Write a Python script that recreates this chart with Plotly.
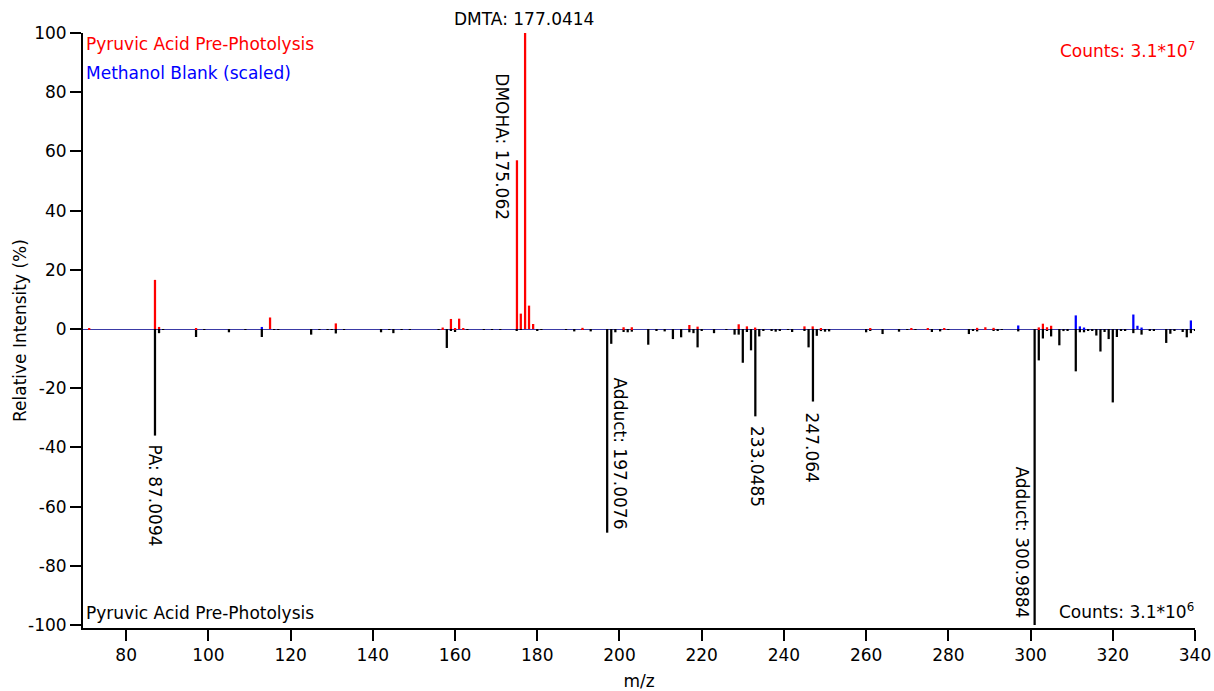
import plotly.graph_objects as go

# ---------------- data ----------------
# Pyruvic acid pre-photolysis (top, red), relative intensity %
red_mz = [71.0, 87.0094, 88.0, 97.0, 115.0, 131.0, 157.0, 159.0, 160.0, 161.0, 162.0,
          175.062, 176.0, 177.0414, 178.0, 179.0, 191.0, 201.0, 203.0, 217.0, 219.0,
          229.0, 231.0, 233.0, 245.0, 247.0, 249.0, 261.0, 271.0, 275.0, 279.0, 287.0,
          289.0, 291.0, 302.0, 303.0, 304.0, 305.0]
red_int = [0.3, 16.6, 0.7, 0.3, 3.9, 1.9, 0.5, 3.4, 0.3, 3.5, 0.3,
           57.0, 5.2, 100.0, 7.9, 1.7, 0.4, 0.6, 0.6, 1.35, 0.8,
           1.6, 0.9, 0.5, 0.9, 0.9, 0.3, 0.3, 0.3, 0.3, 0.3, 0.4,
           0.6, 0.4, 0.55, 1.8, 0.6, 1.1]

# Methanol blank (scaled, blue)
blue_mz = [113.0, 297.0, 311.0, 312.0, 313.0, 325.0, 326.0, 327.0, 339.0]
blue_int = [0.7, 1.2, 4.6, 0.9, 0.5, 4.9, 1.1, 0.5, 2.9]

# Pyruvic acid pre-photolysis (bottom, black, plotted negative)
black_mz = [87.0094, 88, 89, 97, 99, 105, 109, 113, 116, 117, 125, 127, 129, 130, 131, 133,
            142, 144, 145, 147, 149, 156, 158, 159, 160, 163, 167, 169, 171, 175, 176, 180,
            181, 187, 189, 191, 193, 197.0076, 198, 199, 201, 202, 203, 207, 209, 211, 213,
            215, 217, 218, 219, 220, 223, 226, 228, 229, 230, 231, 232, 233.0485, 234, 235,
            237, 238, 239, 241, 242, 245, 246, 247.064, 248, 249, 250, 251, 260, 261, 264,
            268, 270, 272, 276, 278, 280, 285, 286, 287, 291, 292, 293, 297, 300.9884, 302,
            303, 304, 305, 307, 308, 309, 311, 312, 313, 314, 315, 316, 317, 318, 319, 320,
            321, 322, 323, 325, 327, 329, 330, 333, 334, 335, 337, 338, 339, 340]
black_int = [-36.0, -1.4, -0.3, -2.7, -0.3, -1.1, -0.3, -2.7, -0.3, -0.3, -1.9, -0.3, -0.3, -0.3, -1.5, -0.3,
             -1.1, -0.3, -1.4, -0.3, -0.2, -0.3, -6.4, -0.5, -1.0, -0.3, -0.2, -0.2, -0.2, -0.4, -0.3, -0.4,
             -0.3, -0.2, -0.8, -0.3, -0.8, -68.8, -5.0, -1.1, -1.0, -1.1, -0.9, -5.3, -0.4, -0.8, -3.4,
             -2.8, -1.1, -1.4, -6.2, -0.5, -1.4, -0.2, -1.9, -1.9, -11.4, -1.0, -7.2, -29.5, -2.5, -0.6,
             -0.5, -0.9, -0.6, -0.3, -1.0, -0.5, -6.2, -24.5, -2.3, -0.7, -0.9, -0.8, -1.1, -0.6, -1.7,
             -0.9, -0.3, -0.3, -1.0, -0.8, -0.3, -1.7, -0.5, -0.8, -0.5, -0.5, -0.3, -0.8, -100.0, -10.6,
             -3.2, -0.6, -2.5, -5.5, -0.7, -0.5, -14.3, -1.1, -1.1, -0.4, -0.4, -2.2, -7.6, -1.0, -3.4, -24.8,
             -2.7, -0.6, -0.6, -1.4, -1.9, -0.4, -0.4, -4.7, -1.6, -0.5, -1.0, -2.8, -1.4, -0.6]

# peak labels: (mass, intensity, text)
label_mz = [177.0414, 175.062, 87.0094, 197.0076, 233.0485, 247.064, 300.9884]
label_int = [100.0, 57.0, -36.0, -68.8, -29.5, -24.5, -100.0]
label_text = ["DMTA: 177.0414", "DMOHA: 175.062", "PA: 87.0094", "Adduct: 197.0076",
              "233.0485", "247.064", "Adduct: 300.9884"]

x_ticks = list(range(80, 341, 20))
y_ticks = list(range(-100, 101, 20))
y_ticktext = [str(v) for v in y_ticks]  # plain hyphen minus

# ---------------- styling ----------------
FONT = "DejaVu Sans"
FS = 17
label_angle = [0, 90, 90, 90, 90, 90, 90]
label_xshift = [-1, -15, 0, 13, 1, 0, -13]
label_yshift = [14, 13, -60, 79, -50, -46, 83]

fig = go.Figure()
bw = 0.55
fig.add_bar(x=black_mz, y=black_int, width=bw, marker=dict(color="#000000", line_width=0),
            showlegend=False)
fig.add_bar(x=red_mz, y=red_int, width=bw, marker=dict(color="#ff0000", line_width=0),
            showlegend=False)
fig.add_bar(x=blue_mz, y=blue_int, width=bw, marker=dict(color="#0000ff", line_width=0),
            showlegend=False)

annotations = []
for mz, it, txt, ang, dx, dy in zip(label_mz, label_int, label_text, label_angle,
                                    label_xshift, label_yshift):
    annotations.append(dict(x=mz, y=it, xref="x", yref="y", text=txt, showarrow=False,
                            textangle=ang, xanchor="center", yanchor="middle",
                            xshift=dx, yshift=dy, font=dict(family=FONT, size=FS, color="black")))

annotations += [
    dict(xref="paper", yref="paper", x=0.0009, y=0.9815, xanchor="left", yanchor="middle",
         text="Pyruvic Acid Pre-Photolysis", showarrow=False,
         font=dict(family=FONT, size=FS, color="#ff0000")),
    dict(xref="paper", yref="paper", x=0.0009, y=0.9328, xanchor="left", yanchor="middle",
         text="Methanol Blank (scaled)", showarrow=False,
         font=dict(family=FONT, size=FS, color="#0000ff")),
    dict(xref="paper", yref="paper", x=1.0018, y=0.971, xanchor="right", yanchor="middle",
         text="Counts: 3.1*10<sup>7</sup>", showarrow=False,
         font=dict(family=FONT, size=FS, color="#ff0000")),
    dict(xref="paper", yref="paper", x=0.0009, y=0.0252, xanchor="left", yanchor="middle",
         text="Pyruvic Acid Pre-Photolysis", showarrow=False,
         font=dict(family=FONT, size=FS, color="#000000")),
    dict(xref="paper", yref="paper", x=1.0009, y=0.028, xanchor="right", yanchor="middle",
         text="Counts: 3.1*10<sup>6</sup>", showarrow=False,
         font=dict(family=FONT, size=FS, color="#000000")),
    dict(xref="paper", yref="paper", x=-0.0567, y=0.5008, xanchor="center", yanchor="middle",
         text="Relative Intensity (%)", textangle=-90, showarrow=False,
         font=dict(family=FONT, size=FS, color="#000000")),
]

fig.update_layout(
    width=1214, height=691,
    margin=dict(l=83, r=19, t=33, b=63, autoexpand=False),
    plot_bgcolor="white", paper_bgcolor="white",
    barmode="overlay",
    font=dict(family=FONT, size=FS, color="black"),
    annotations=annotations,
    xaxis=dict(range=[69.5, 340], tickmode="array", tickvals=x_ticks,
               ticks="outside", ticklen=11, tickwidth=2, tickcolor="black",
               showline=True, linewidth=2, linecolor="black", showgrid=False, zeroline=False,
               tickfont=dict(family=FONT, size=FS, color="black"),
               title=dict(text="m/z", font=dict(family=FONT, size=FS, color="black"), standoff=11),
               automargin=False),
    yaxis=dict(range=[-101, 100], tickmode="array", tickvals=y_ticks, ticktext=y_ticktext,
               ticks="outside", ticklen=11, tickwidth=2, tickcolor="black",
               showline=True, linewidth=2, linecolor="black", showgrid=False,
               zeroline=True, zerolinecolor="#3a3aa6", zerolinewidth=1,
               tickfont=dict(family=FONT, size=FS, color="black"),
               automargin=False),
)

fig.write_html("out.html")
